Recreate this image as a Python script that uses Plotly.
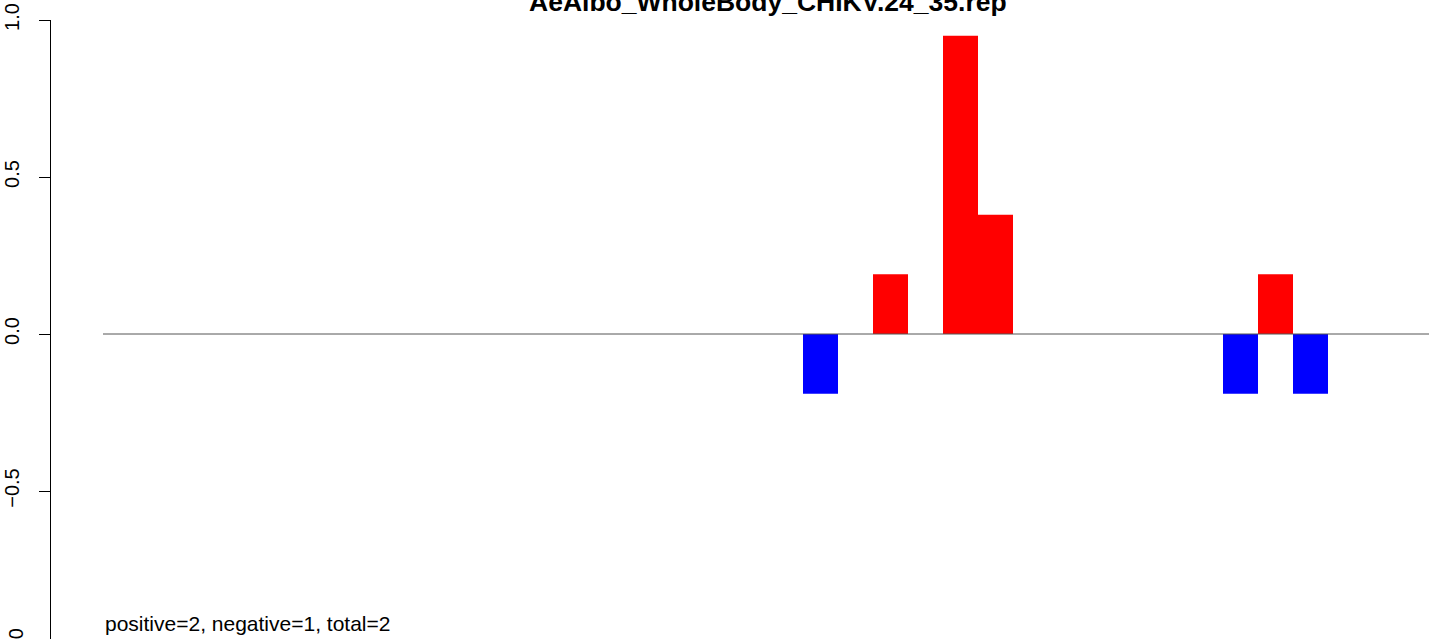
import plotly.graph_objects as go

# ---- data ----
title_text = "AeAlbo_WholeBody_CHIKV.24_35.rep"
footer_text = "positive=2, negative=1, total=2"
positions = [21, 23, 25, 26, 33, 34, 35]
values = [-0.19, 0.19, 0.95, 0.38, -0.19, 0.19, -0.19]
n_positions = 38
y_ticks = [1.0, 0.5, 0.0, -0.5]
y_tick_labels = ["1.0", "0.5", "0.0", "\u22120.5"]

W, H = 1429, 639
FONT = "Liberation Sans, Arial, Helvetica, sans-serif"

colors = ["#FF0000" if v > 0 else "#0000FF" for v in values]

fig = go.Figure()
fig.add_trace(go.Bar(
    x=positions, y=values, width=1,
    marker=dict(color=colors, line=dict(width=0)),
    showlegend=False, hoverinfo="x+y",
))

# zero line across the bar region
fig.add_shape(type="line", xref="x", yref="y", x0=0.5, x1=n_positions + 0.5,
              y0=0, y1=0, line=dict(color="#555555", width=1))
# y axis line from 1.0 to -1.0
ax_x = 50.5 / W
fig.add_shape(type="line", xref="paper", yref="y", x0=ax_x, x1=ax_x,
              y0=-1.0, y1=1.0, line=dict(color="black", width=1))

left_px = 103      # left edge of the bar region
zero_px = 334      # y pixel of value 0
unit_px = 314      # pixels per unit of value
bar_px = 35        # pixels per position

fig.update_layout(
    width=W, height=H,
    margin=dict(l=0, r=0, t=0, b=0),
    plot_bgcolor="white", paper_bgcolor="white",
    font=dict(family=FONT, color="black"),
    xaxis=dict(visible=False,
               range=[0.5 - left_px / bar_px, 0.5 + (W - left_px) / bar_px]),
    yaxis=dict(
        range=[(zero_px - H) / unit_px, zero_px / unit_px],
        anchor="free", position=ax_x,
        showgrid=False, zeroline=False, showline=False,
        tickmode="array", tickvals=y_ticks, ticktext=y_tick_labels,
        ticks="outside", ticklen=12, tickwidth=1, tickcolor="black",
        tickangle=-90, tickfont=dict(family=FONT, size=20, color="black"),
        ticklabelstandoff=12, ticklabeloverflow="allow",
    ),
    annotations=[
        dict(text="<b>" + title_text + "</b>", xref="paper", yref="paper",
             x=768 / W, y=1 - 1.5 / H, xanchor="center", yanchor="middle",
             showarrow=False, borderpad=0,
             font=dict(family=FONT, size=26.5, color="black")),
        dict(text=footer_text, xref="paper", yref="paper",
             x=104 / W, y=1 - 623.7 / H, xanchor="left", yanchor="middle",
             showarrow=False, borderpad=0,
             font=dict(family=FONT, size=21, color="black")),
        dict(text="\u22121.0", xref="paper", yref="paper",
             x=15.5 / W, y=1 - 648 / H, xanchor="center", yanchor="middle",
             textangle=-90, showarrow=False, borderpad=0,
             font=dict(family=FONT, size=20, color="black")),
    ],
)

# place the figure at the window's top-left corner (no default body margin)
fig.write_html("out.html",
               config={"displayModeBar": False},
               post_script="document.body.style.margin='0px';"
                           "document.body.style.overflow='hidden';")
